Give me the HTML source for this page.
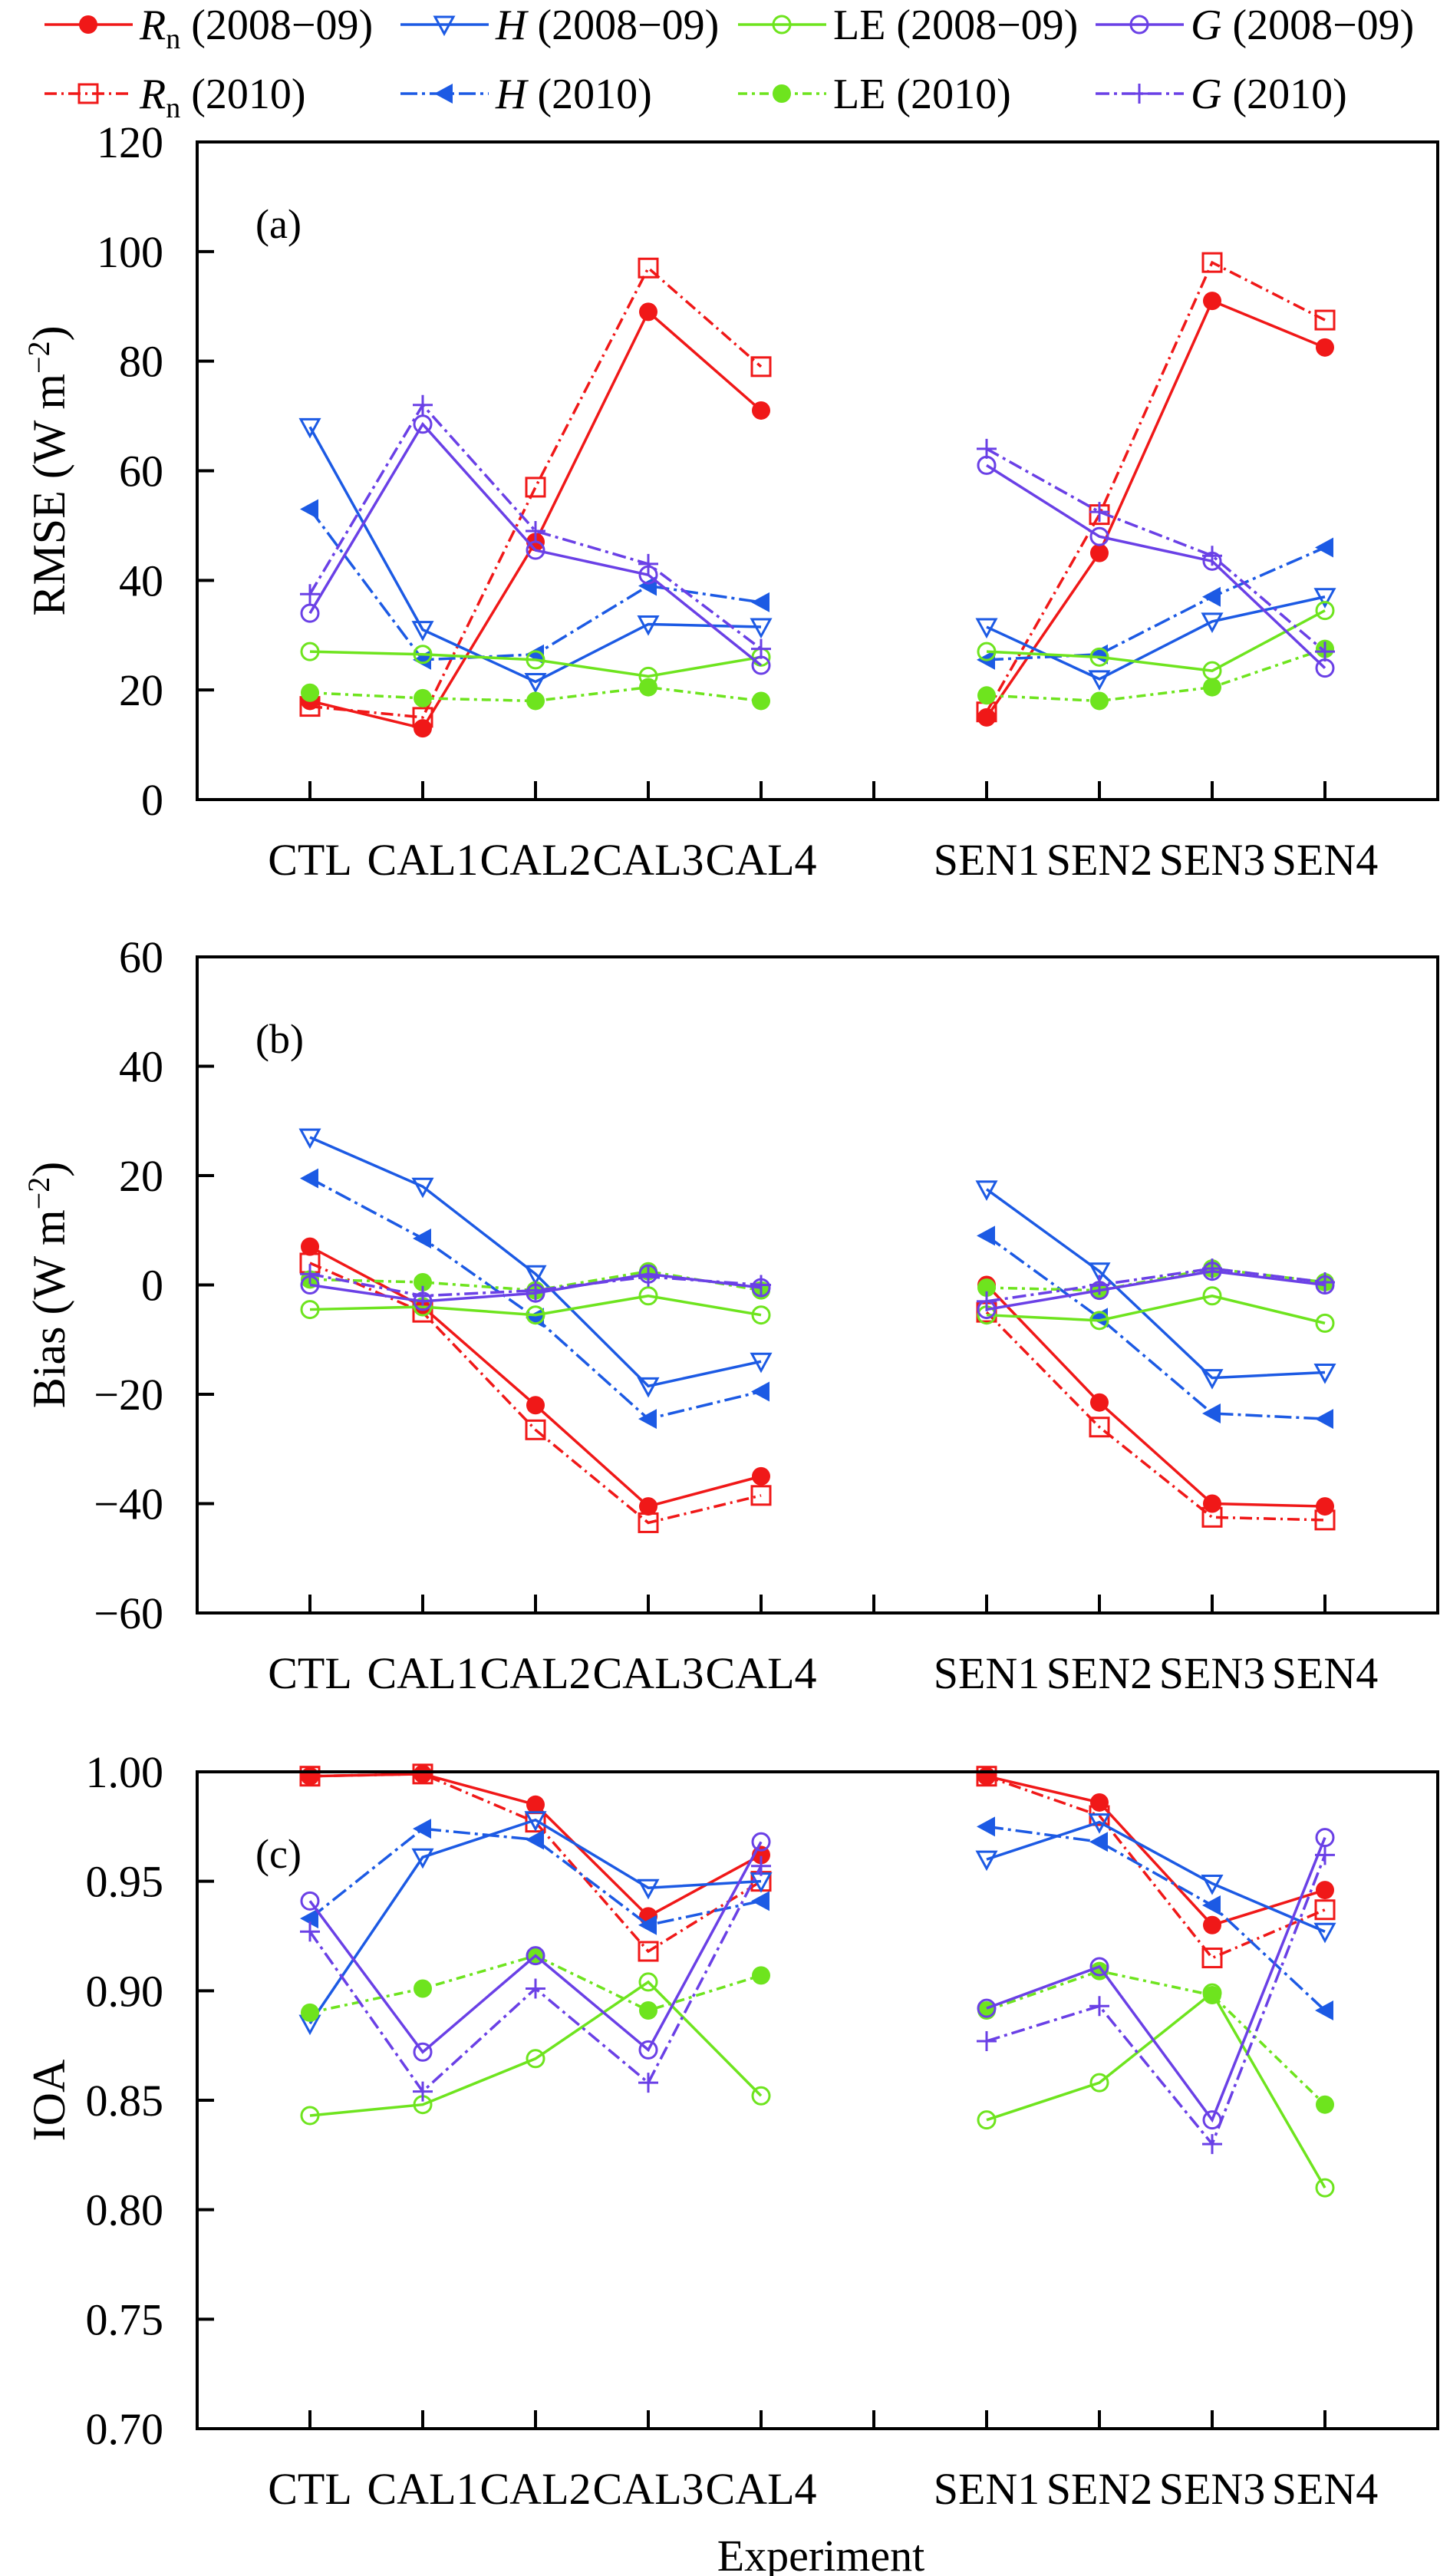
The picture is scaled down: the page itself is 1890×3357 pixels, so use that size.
<!DOCTYPE html>
<html><head><meta charset="utf-8"><style>
html,body{margin:0;padding:0;background:#fff;}
svg{display:block;font-family:"Liberation Serif",serif;}
</style></head><body>
<svg id="chart" xmlns="http://www.w3.org/2000/svg" width="1890" height="3357" viewBox="0 0 1890 3357"></svg>
<script>
const categories=["CTL","CAL1","CAL2","CAL3","CAL4","","SEN1","SEN2","SEN3","SEN4"];
// RMSE
const rmseRn0809=[18,13,47,89,71,null,15,45,91,82.5];
const rmseRn2010=[17,15,57,97,79,null,16,52,98,87.5];
const rmseH0809=[68,31,21.5,32,31.5,null,31.5,22,32.5,37];
const rmseH2010=[53,25.5,26.5,39,36,null,25.5,26.5,37,46];
const rmseLE0809=[27,26.5,25.5,22.5,26,null,27,26,23.5,34.5];
const rmseLE2010=[19.5,18.5,18,20.5,18,null,19,18,20.5,27.5];
const rmseG0809=[34,68.5,45.5,41,24.5,null,61,48,43.5,24];
const rmseG2010=[37.5,72,49,43,27.5,null,64,52.5,44.5,27];
// Bias
const biasRn0809=[7,-4,-22,-40.5,-35,null,0,-21.5,-40,-40.5];
const biasRn2010=[4,-5,-26.5,-43.5,-38.5,null,-5,-26,-42.5,-43];
const biasH0809=[27,18,2,-18.5,-14,null,17.5,2.5,-17,-16];
const biasH2010=[19.5,8.5,-6,-24.5,-19.5,null,9,-6,-23.5,-24.5];
const biasLE0809=[-4.5,-4,-5.5,-2,-5.5,null,-5.5,-6.5,-2,-7];
const biasLE2010=[1,0.5,-1,2.5,-1,null,-0.5,-1,3,0.5];
const biasG0809=[0,-3,-1.5,2,-0.5,null,-4.5,-1,2.5,0];
const biasG2010=[2,-2,-1,1.5,0,null,-3,0,3,0.5];
// IOA
const ioaRn0809=[0.998,0.999,0.985,0.934,0.962,null,0.998,0.986,0.930,0.946];
const ioaRn2010=[0.998,0.999,0.977,0.918,0.950,null,0.998,0.980,0.915,0.937];
const ioaH0809=[0.885,0.961,0.978,0.947,0.950,null,0.960,0.977,0.949,0.927];
const ioaH2010=[0.933,0.974,0.969,0.930,0.941,null,0.975,0.968,0.939,0.891];
const ioaLE0809=[0.843,0.848,0.869,0.904,0.852,null,0.841,0.858,0.899,0.810];
const ioaLE2010=[0.890,0.901,0.916,0.891,0.907,null,0.891,0.909,0.898,0.848];
const ioaG0809=[0.941,0.872,0.916,0.873,0.968,null,0.892,0.911,0.841,0.970];
const ioaG2010=[0.927,0.854,0.901,0.858,0.957,null,0.877,0.893,0.830,0.962];
const rmseTicks=[0,20,40,60,80,100,120];
const biasTicks=[-60,-40,-20,0,20,40,60];
const ioaTicks=[0.70,0.75,0.80,0.85,0.90,0.95,1.00];

const NS="http://www.w3.org/2000/svg";
const svg=document.getElementById('chart');
function mk(tag,attrs,parent){const e=document.createElementNS(NS,tag);for(const k in attrs)e.setAttribute(k,attrs[k]);(parent||svg).appendChild(e);return e;}
const RED="#f01818",BLUE="#1c5ae4",GREEN="#6ee41e",PURP="#6a40e6";
const L=257,R=1874;
const step=(R-L)/11;
function xs(i){return L+step*(i+1);}
const styles={
 Rn0809:{c:RED,dash:"",m:"fcircle"},Rn2010:{c:RED,dash:"16,6,3,6",m:"osquare"},
 H0809:{c:BLUE,dash:"",m:"otri"},H2010:{c:BLUE,dash:"22,6,4,6",m:"ftri"},
 LE0809:{c:GREEN,dash:"",m:"ocircle"},LE2010:{c:GREEN,dash:"12,6,4,6",m:"fcircle"},
 G0809:{c:PURP,dash:"",m:"ocircle"},G2010:{c:PURP,dash:"18,6,4,6",m:"plus"}};
function marker(type,x,y,c,g){
 let e;
 if(type==="fcircle")e=mk('circle',{cx:x,cy:y,r:12,fill:c},g);
 else if(type==="ocircle")e=mk('circle',{cx:x,cy:y,r:11,fill:"none",stroke:c,"stroke-width":3},g);
 else if(type==="osquare")e=mk('rect',{x:x-12,y:y-12,width:24,height:24,fill:"none",stroke:c,"stroke-width":3},g);
 else if(type==="otri")e=mk('polygon',{points:`${x-12},${y-10} ${x+12},${y-10} ${x},${y+12}`,fill:"none",stroke:c,"stroke-width":3},g);
 else if(type==="ftri")e=mk('polygon',{points:`${x-13},${y} ${x+11},${y-13} ${x+11},${y+13}`,fill:c},g);
 else e=mk('path',{d:`M${x-13},${y}H${x+13}M${x},${y-13}V${y+13}`,stroke:c,"stroke-width":3},g);
 
 
}
function panel(key,top,bot,ticks,fmt,label,title,series){
 const g=mk('g',{});
 
 
 const lo=ticks[0],hi=ticks[ticks.length-1];
 const ys=v=>bot-(v-lo)/(hi-lo)*(bot-top);
 ticks.forEach(t=>{
  const y=ys(t);
  const tl=mk('line',{x1:L,x2:L+22,y1:y,y2:y,stroke:"#000","stroke-width":4},g);
  
  
  const tx=mk('text',{x:213,y:y+20,"font-size":58,"text-anchor":"end"},g);
  tx.textContent=fmt(t);
  
  
 });
 for(let i=0;i<10;i++){
  const x=xs(i);
  const tl=mk('line',{x1:x,x2:x,y1:bot,y2:bot-24,stroke:"#000","stroke-width":4},g);
  
  
  if(categories[i]){
   const tx=mk('text',{x:x,y:bot+98,"font-size":58,"text-anchor":"middle"},g);
   tx.textContent=categories[i];
   
   
  }
 }
 Object.keys(series).forEach(k=>{
  const st=styles[k],vals=series[k];
  [[0,5],[6,10]].forEach(([a,b])=>{
   const pts=[];for(let i=a;i<b;i++)if(vals[i]!=null)pts.push(xs(i)+","+ys(vals[i]));
   const pl=mk('polyline',{points:pts.join(" "),fill:"none",stroke:st.c,"stroke-width":3.5,"stroke-dasharray":st.dash},g);
   
   
  });
  vals.forEach((v,i)=>{if(v!=null)marker(st.m,xs(i),ys(v),st.c,g);});
 });
 const fr=mk('rect',{x:L,y:top,width:R-L,height:bot-top,fill:"none",stroke:"#000","stroke-width":4},g);
 
 
 const pl=mk('text',{x:333,y:top+125,"font-size":54},g);
 pl.textContent=label;
 
 
 const cy=(top+bot)/2;
 const yt=mk('text',{x:0,y:0,"font-size":60,"text-anchor":"middle",transform:`translate(84,${cy}) rotate(-90)`},g);
 yt.innerHTML=title;
 
 
}
panel('rmse',185,1042,rmseTicks,t=>String(t),"(a)",'RMSE (W m<tspan dy="-20" font-size="40">−2</tspan><tspan dy="20">)</tspan>',
 {Rn0809:rmseRn0809,Rn2010:rmseRn2010,H0809:rmseH0809,H2010:rmseH2010,LE0809:rmseLE0809,LE2010:rmseLE2010,G0809:rmseG0809,G2010:rmseG2010});
panel('bias',1247,2102,biasTicks,t=>t<0?"−"+(-t):String(t),"(b)",'Bias (W m<tspan dy="-20" font-size="40">−2</tspan><tspan dy="20">)</tspan>',
 {Rn0809:biasRn0809,Rn2010:biasRn2010,H0809:biasH0809,H2010:biasH2010,LE0809:biasLE0809,LE2010:biasLE2010,G0809:biasG0809,G2010:biasG2010});
panel('ioa',2309,3165,ioaTicks,t=>t.toFixed(2),"(c)",'IOA',
 {Rn0809:ioaRn0809,Rn2010:ioaRn2010,H0809:ioaH0809,H2010:ioaH2010,LE0809:ioaLE0809,LE2010:ioaLE2010,G0809:ioaG0809,G2010:ioaG2010});
const xt=mk('text',{x:1070,y:3350,"font-size":58,"text-anchor":"middle"});
xt.textContent="Experiment";


// legend
const legendKeys=[["Rn0809","H0809","LE0809","G0809"],["Rn2010","H2010","LE2010","G2010"]];
const legendLabels=[['<tspan font-style="italic">R</tspan><tspan dy="12" font-size="38">n</tspan><tspan dy="-12"> (2008−09)</tspan>','<tspan font-style="italic">H</tspan> (2008−09)','LE (2008−09)','<tspan font-style="italic">G</tspan> (2008−09)'],
 ['<tspan font-style="italic">R</tspan><tspan dy="12" font-size="38">n</tspan><tspan dy="-12"> (2010)</tspan>','<tspan font-style="italic">H</tspan> (2010)','LE (2010)','<tspan font-style="italic">G</tspan> (2010)']];
const legX=[58,522,962,1428],legY=[32,122];
legendKeys.forEach((row,r)=>row.forEach((k,j)=>{
 const g=mk('g',{});
 
 
 const st=styles[k],x0=legX[j],y=legY[r];
 mk('line',{x1:x0,x2:x0+115,y1:y,y2:y,stroke:st.c,"stroke-width":3.5,"stroke-dasharray":st.dash},g);
 marker(st.m,x0+57,y,st.c,g);
 const t=mk('text',{x:x0+124,y:y+19,"font-size":56},g);
 t.innerHTML=legendLabels[r][j];
}));
</script>
</body></html>
